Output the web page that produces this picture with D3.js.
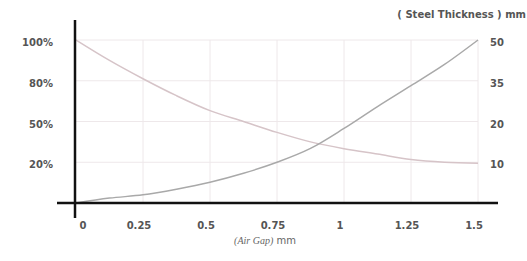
<!DOCTYPE html>
<html>
<head>
<meta charset="utf-8">
<script src="https://cdn.jsdelivr.net/npm/d3@7"></script>
<style>
  body { margin: 0; background: #fff; }
  text { font-family: "DejaVu Sans", sans-serif; }
</style>
</head>
<body>
<div id="chart"></div>
<script>
// air gap (mm)
const airGap = [0, 0.125, 0.25, 0.375, 0.5, 0.625, 0.75, 0.875, 1, 1.125, 1.25, 1.375, 1.5];
// left axis: percentage
const percent = [100, 90, 81, 69, 58, 50, 42, 35, 30, 26, 22, 20, 19.5];
// right axis: steel thickness (mm)
const thickness = [0, 1.2, 2.0, 3.4, 5.1, 7.3, 10, 13.4, 18.3, 25.5, 33.2, 41, 50];

const xTicks = [0, 0.25, 0.5, 0.75, 1, 1.25, 1.5];
const leftTicks = [20, 50, 80, 100];
const rightTicks = [10, 20, 35, 50];

const width = 527, height = 261;
const x0 = 76, x1 = 478, yTop = 40, yBase = 203;
const step = (yBase - yTop) / 4;

const x = d3.scaleLinear().domain([0, 1.5]).range([x0, x1]);
const yL = d3.scaleLinear()
    .domain([0, 20, 50, 80, 100])
    .range([yBase, yBase - step, yBase - 2 * step, yBase - 3 * step, yTop]);
const yR = d3.scaleLinear()
    .domain([0, 10, 20, 35, 50])
    .range([yBase, yBase - step, yBase - 2 * step, yBase - 3 * step, yTop]);

const svg = d3.select("#chart").append("svg")
    .attr("width", width)
    .attr("height", height);

// grid
svg.append("g")
    .selectAll("line")
    .data(leftTicks)
    .enter().append("line")
    .attr("x1", x0).attr("x2", x1)
    .attr("y1", d => yL(d)).attr("y2", d => yL(d))
    .attr("stroke", "#eee8ea")
    .attr("stroke-width", 1);

svg.append("g")
    .selectAll("line")
    .data(xTicks.slice(1))
    .enter().append("line")
    .attr("x1", d => x(d)).attr("x2", d => x(d))
    .attr("y1", yTop).attr("y2", yBase)
    .attr("stroke", "#eee8ea")
    .attr("stroke-width", 1);

// curves
const line = (yScale) => d3.line()
    .x((d, i) => x(airGap[i]))
    .y(d => yScale(d))
    .curve(d3.curveMonotoneX);

svg.append("path")
    .attr("d", line(yL)(percent))
    .attr("fill", "none")
    .attr("stroke", "#d6c4c8")
    .attr("stroke-width", 1.5);

svg.append("path")
    .attr("d", line(yR)(thickness))
    .attr("fill", "none")
    .attr("stroke", "#a9a9a9")
    .attr("stroke-width", 1.5);

// axes
svg.append("line")
    .attr("x1", 57).attr("x2", 498)
    .attr("y1", yBase).attr("y2", yBase)
    .attr("stroke", "#111").attr("stroke-width", 2.5);
svg.append("line")
    .attr("x1", x0 - 1).attr("x2", x0 - 1)
    .attr("y1", 20).attr("y2", 218)
    .attr("stroke", "#111").attr("stroke-width", 2.5);

// tick labels
svg.append("g")
    .selectAll("text")
    .data(leftTicks)
    .enter().append("text")
    .attr("x", 53)
    .attr("y", d => yL(d) + 6)
    .attr("text-anchor", "end")
    .attr("font-size", 10)
    .attr("font-weight", "bold")
    .attr("fill", "#555")
    .text(d => d + "%");

svg.append("g")
    .selectAll("text")
    .data(rightTicks)
    .enter().append("text")
    .attr("x", 490)
    .attr("y", d => yR(d) + 6)
    .attr("font-size", 10)
    .attr("font-weight", "bold")
    .attr("fill", "#555")
    .text(d => d);

svg.append("g")
    .selectAll("text")
    .data(xTicks)
    .enter().append("text")
    .attr("x", d => x(d) + (d === 0 ? 7 : -4))
    .attr("y", 229)
    .attr("text-anchor", "middle")
    .attr("font-size", 10)
    .attr("font-weight", "bold")
    .attr("fill", "#555")
    .text(d => d);

// axis titles
svg.append("text")
    .attr("x", 526)
    .attr("y", 18)
    .attr("text-anchor", "end")
    .attr("font-size", 10)
    .attr("font-weight", "bold")
    .attr("fill", "#555")
    .text("( Steel Thickness ) mm");

const xt = svg.append("text")
    .attr("x", 265)
    .attr("y", 244)
    .attr("text-anchor", "middle")
    .attr("font-size", 10)
    .attr("fill", "#666");
xt.append("tspan")
    .attr("font-family", "Liberation Serif, serif")
    .attr("font-style", "italic")
    .text("(Air Gap)");
xt.append("tspan").text(" mm");
</script>
</body>
</html>
